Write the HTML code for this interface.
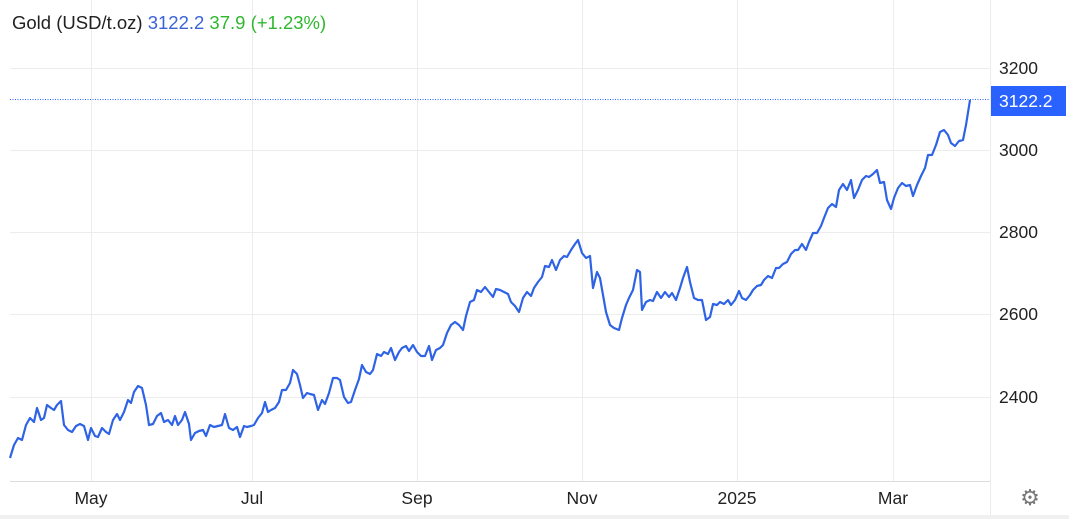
<!DOCTYPE html>
<html><head><style>
html,body{margin:0;padding:0;background:#fff;}
body{width:1069px;height:519px;overflow:hidden;position:relative;font-family:"Liberation Sans",Arial,sans-serif;}
</style></head><body>
<svg width="1069" height="519" style="position:absolute;left:0;top:0" font-family="Liberation Sans, Arial, sans-serif">
<rect x="0" y="515" width="1069" height="4" fill="#f0f0f0"/>
<g stroke="#ececec" stroke-width="1">
<line x1="10" y1="68.5" x2="990" y2="68.5"/>
<line x1="10" y1="150.5" x2="990" y2="150.5"/>
<line x1="10" y1="232.5" x2="990" y2="232.5"/>
<line x1="10" y1="314.5" x2="990" y2="314.5"/>
<line x1="10" y1="397.5" x2="990" y2="397.5"/>
<line x1="91.5" y1="0" x2="91.5" y2="481"/>
<line x1="252.5" y1="0" x2="252.5" y2="481"/>
<line x1="417.5" y1="0" x2="417.5" y2="481"/>
<line x1="582.5" y1="0" x2="582.5" y2="481"/>
<line x1="737.5" y1="0" x2="737.5" y2="481"/>
<line x1="893.5" y1="0" x2="893.5" y2="481"/>
<line x1="990.5" y1="0" x2="990.5" y2="515"/>
</g>
<line x1="10" y1="481.5" x2="990" y2="481.5" stroke="#ddd"/>
<line x1="10" y1="99.5" x2="990" y2="99.5" stroke="#2962ff" stroke-width="1" stroke-dasharray="1,1.5"/>
<polyline fill="none" stroke="#2f63e6" stroke-width="2.2" stroke-linejoin="round" points="10,458 14,445 18,438 22,440 26,425 30,418 34,422 37,408 41,420 44,418 47,405 51,408 54,410 57,405 61,401 64,425 68,430 72,432 76,426 80,424 84,426 88,440 91,428 95,436 98,437 102,428 106,432 109,434 113,420 117,414 120,420 124,412 128,400 131,403 134,392 138,386 142,388 146,405 149,425 153,424 157,416 161,413 164,422 168,420 172,425 175,416 178,425 182,420 185,412 189,424 191,440 195,433 199,431 203,430 206,436 210,425 214,427 218,426 222,425 225,414 229,428 233,430 237,427 240,437 244,426 247,427 251,426 254,425 258,418 262,413 265,402 268,412 271,410 275,408 279,402 282,390 286,390 290,383 293,370 297,374 300,385 303,398 307,393 310,394 314,395 318,410 322,400 325,404 329,393 333,378 337,378 340,380 344,397 348,403 351,402 355,390 359,379 362,365 366,372 370,374 373,370 377,354 381,356 384,352 388,354 391,348 395,360 399,352 402,348 406,346 409,351 413,345 417,352 421,356 425,356 429,346 432,360 436,350 440,348 443,345 447,333 451,325 455,322 459,325 463,330 466,316 470,302 474,300 477,290 481,292 485,287 489,292 493,297 496,289 500,290 504,292 508,294 511,302 515,306 519,312 523,298 527,292 531,296 534,288 538,282 542,277 545,266 549,267 552,260 556,270 560,260 564,256 567,257 571,250 575,244 578,240 582,253 586,258 590,256 593,288 597,272 600,278 603,295 606,312 610,325 614,328 619,330 622,318 626,305 629,298 633,290 637,270 640,272 642,310 646,302 650,300 653,301 657,292 661,298 665,292 669,297 672,293 676,300 680,288 683,278 687,267 690,282 694,298 698,300 702,300 706,320 710,317 713,304 717,305 720,302 724,304 728,300 731,305 735,300 739,291 742,298 746,300 750,295 753,290 757,286 761,285 764,280 768,276 772,278 776,268 779,268 783,264 787,262 791,254 795,250 798,250 802,244 806,250 809,242 813,233 817,233 821,226 824,218 828,208 832,204 836,207 839,190 843,184 847,190 851,180 854,198 858,190 862,180 866,176 869,177 873,174 877,170 880,183 884,182 887,200 891,209 894,198 898,188 902,183 906,186 910,185 913,196 917,185 921,176 925,168 928,155 932,155 936,145 940,132 944,130 948,135 951,143 955,146 959,141 963,140 966,125 970,100"/>
<g font-size="17.5" fill="#222">
<text x="999" y="74">3200</text>
<text x="999" y="156">3000</text>
<text x="999" y="238">2800</text>
<text x="999" y="320">2600</text>
<text x="999" y="403">2400</text>
</g>
<rect x="991" y="86" width="75" height="30" fill="#2962ff"/>
<text x="999" y="107" font-size="17.5" fill="#fff">3122.2</text>
<g font-size="17.5" fill="#222" text-anchor="middle">
<text x="91" y="504">May</text>
<text x="252" y="504">Jul</text>
<text x="417" y="504">Sep</text>
<text x="582" y="504">Nov</text>
<text x="737" y="504">2025</text>
<text x="893" y="504">Mar</text>
</g>
<text x="1030" y="505" font-size="22" fill="#777" text-anchor="middle">⚙</text>
<text x="12" y="29" font-size="18.5"><tspan fill="#222">Gold (USD/t.oz) </tspan><tspan fill="#3b63d8">3122.2</tspan><tspan fill="#2fb82f">  37.9 (+1.23%)</tspan></text>
</svg>
</body></html>
